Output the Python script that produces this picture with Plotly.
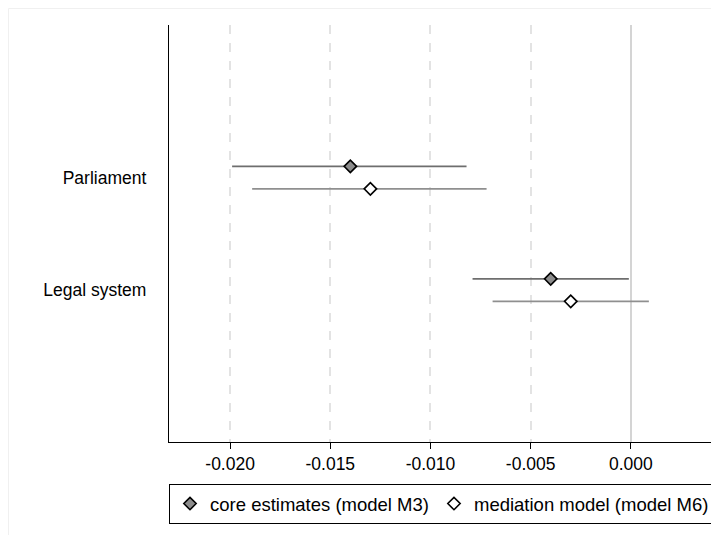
import plotly.graph_objects as go

categories = ["Parliament", "Legal system"]
cat_pos = [2, 1]

core_est = [-0.014, -0.004]
core_lo = [-0.0199, -0.0079]
core_hi = [-0.0082, -0.0001]

med_est = [-0.013, -0.003]
med_lo = [-0.0189, -0.0069]
med_hi = [-0.0072, 0.0009]

x_ticks = [-0.020, -0.015, -0.010, -0.005, 0.000]
x_tick_labels = ["-0.020", "-0.015", "-0.010", "-0.005", "0.000"]

offset = 0.1

# page body has an 8px margin -> figure is 711x527 drawn at (8, 8)
W, H = 711, 527
L, T, B, R = 161, 17, 93, 0
PW = W - L - R
PH = H - T - B

fig = go.Figure()

def add_series(est, lo, hi, ypos, name, fill, ci_color):
    fig.add_trace(go.Scatter(
        x=est, y=ypos, mode="markers", name=name,
        marker=dict(symbol="diamond", size=9.5, color=fill,
                    line=dict(color="black", width=1.6)),
        error_x=dict(type="data", symmetric=False,
                     array=[h - e for h, e in zip(hi, est)],
                     arrayminus=[e - l for e, l in zip(est, lo)],
                     width=0, thickness=1.6, color=ci_color),
    ))

add_series(core_est, core_lo, core_hi, [p + offset for p in cat_pos],
           "core estimates (model M3)", "#8c8c8c", "#6e6e6e")
add_series(med_est, med_lo, med_hi, [p - offset for p in cat_pos],
           "mediation model (model M6)", "white", "#8f8f8f")

fig.update_layout(
    width=W, height=H,
    margin=dict(l=L, r=R, t=T, b=B, autoexpand=False),
    paper_bgcolor="white", plot_bgcolor="white",
    font=dict(family="Liberation Sans, Arial, sans-serif", size=17.5, color="black"),
    showlegend=True,
    legend=dict(orientation="h", x=(169 - 8 - L) / PW, xanchor="left",
                y=-(484 - 442) / PH, yanchor="top",
                bordercolor="black", borderwidth=1,
                font=dict(size=18.5), itemwidth=30, traceorder="normal"),
    xaxis=dict(range=[-0.02305, 0.0044], tickvals=x_ticks, ticktext=x_tick_labels,
               showgrid=True, gridcolor="#e3e3e3", griddash="dash", gridwidth=1.5,
               zeroline=True, zerolinecolor="#d4d4d4", zerolinewidth=1.5,
               showline=True, linecolor="black", linewidth=1,
               ticks="outside", ticklen=6, tickcolor="black", tickwidth=1,
               tickfont=dict(size=17.5)),
    yaxis=dict(range=[-0.35, 3.356], tickvals=cat_pos, ticktext=categories,
               showgrid=False, zeroline=False,
               showline=True, linecolor="black", linewidth=1.3,
               ticks="", ticklabelstandoff=18,
               tickfont=dict(size=17.5)),
    shapes=[dict(type="rect", xref="paper", yref="paper",
                 x0=(0.5 - L) / PW, x1=1.2, y0=-0.5, y1=(H - B - 0.5) / PH,
                 line=dict(color="#f0f0f0", width=1), layer="below")],
)

fig.write_html("out.html")
